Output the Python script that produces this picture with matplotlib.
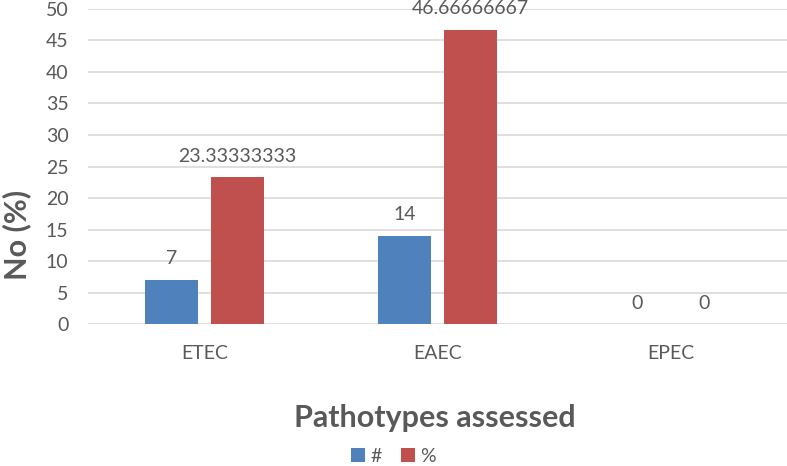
import matplotlib.pyplot as plt
import numpy as np

categories = ["ETEC", "EAEC", "EPEC"]
counts = [7, 14, 0]
percents = [23.33333333, 46.66666667, 0]
series_names = ["#", "%"]

plt.rcParams["font.family"] = ["Lato", "DejaVu Sans"]
text_color = "#595959"

fig = plt.figure(figsize=(7.87, 4.66), dpi=100)
ax = fig.add_axes([0.1118, 0.3047, 0.8882, 0.676])

x = np.arange(len(categories))
width = 0.227
offset = 0.142

bars1 = ax.bar(x - offset, counts, width, color="#4F81BD", label=series_names[0], zorder=3)
bars2 = ax.bar(x + offset, percents, width, color="#C0504D", label=series_names[1], zorder=3)

for bars, vals in [(bars1, counts), (bars2, percents)]:
    for b, v in zip(bars, vals):
        txt = f"{v:g}" if float(v).is_integer() else f"{v:.8f}".rstrip("0")
        ax.annotate(txt, (b.get_x() + b.get_width() / 2, v), xytext=(0, 9),
                    textcoords="offset points", ha="center", va="bottom",
                    fontsize=14, color=text_color)

ax.set_xlim(-0.5, 2.5)
ax.set_ylim(0, 50)
ax.set_yticks(np.arange(0, 51, 5))
ax.set_xticks(x)
ax.set_xticklabels(categories)
ax.yaxis.grid(True, color="#D9D9D9", linewidth=1.2, zorder=0)
ax.set_axisbelow(True)
for s in ax.spines.values():
    s.set_visible(False)
ax.tick_params(length=0, labelsize=14, colors=text_color)
ax.tick_params(axis="x", pad=15)
ax.tick_params(axis="y", pad=14)

ax.set_ylabel("No (%)", fontsize=22, fontweight="bold", color=text_color)
ax.yaxis.set_label_coords(-0.082, 0.283)
ax.set_xlabel("Pathotypes assessed", fontsize=22, fontweight="bold", color=text_color)
ax.xaxis.set_label_coords(0.496, -0.255)

fig.legend(loc="lower center", bbox_to_anchor=(0.5, -0.035), ncol=2, frameon=False,
           fontsize=14, handlelength=0.7, handleheight=0.7, handletextpad=0.3,
           columnspacing=1.0, labelcolor=text_color)

fig.savefig("out.png", dpi=100)
